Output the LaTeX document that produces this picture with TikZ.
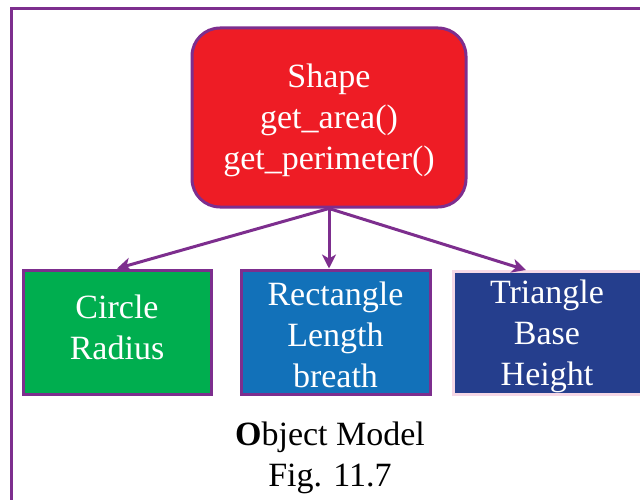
\documentclass[tikz,border=0pt]{standalone}
\usepackage{fontspec}
\setmainfont{Liberation Serif}
\usetikzlibrary{arrows.meta,calc}
\definecolor{linepurple}{HTML}{7D2E8E}
\definecolor{shapered}{HTML}{EE1C25}
\definecolor{circgreen}{HTML}{00AE4F}
\definecolor{rectblue}{HTML}{1271B9}
\definecolor{trinavy}{HTML}{253E8D}
\definecolor{tripink}{HTML}{F6D8E6}
\begin{document}
\begin{tikzpicture}[x=1pt,y=-1pt,
  bigfont/.style={font=\fontsize{34}{41}\selectfont},
  box/.style={draw=linepurple, line width=3pt, inner sep=0pt},
  boxtext/.style={text=white, align=center, bigfont, inner sep=0pt},
  link/.style={draw=linepurple, line width=3pt,
    -{Stealth[length=14pt,width=14pt,inset=4pt]}}
]
\useasboundingbox (0,0) rectangle (640,500);
% outer frame (only left and top edges visible)
\draw[linepurple, line width=3pt] (11,520) -- (11,9) -- (660,9);
% parent
\node[box, fill=shapered, rounded corners=28pt, minimum width=274pt, minimum height=179pt]
  (shape) at (329,117.5) {};
\node[boxtext] (shapetext) at ($(shape.center)+(0,3)$) {Shape\\get\_area()\\get\_perimeter()};
% children
\node[box, fill=circgreen, minimum width=188pt, minimum height=124pt]
  (circ) at (117,332) {};
\node[boxtext] (circtext) at ($(circ.center)+(0,-5)$) {Circle\\Radius};
\node[box, fill=rectblue, minimum width=189pt, minimum height=124pt]
  (rect) at (335.5,332) {};
\node[boxtext] (recttext) at ($(rect.center)+(0,3)$) {Rectangle\\Length\\breath};
\node[box, draw=tripink, fill=trinavy, minimum width=188pt, minimum height=123pt]
  (tri) at (547,333) {};
\node[boxtext] (tritext) at ($(tri.center)+(0,3)$) {Triangle\\Base\\Height};
% arrow end points
\coordinate (rectin) at (shape.south |- rect.north);
\coordinate (triin) at ($(tri.north west)!0.39!(tri.north east)$);
\draw[link] (shape.south) -- (circ.north);
\draw[link] (shape.south) -- (rectin);
\draw[link] (shape.south) -- (triin);
% caption
\node[bigfont, align=center, text=black, inner sep=0pt] (caption) at (330,458)
  {\textbf{O}bject Model\\Fig. 11.7};
\end{tikzpicture}
\end{document}
